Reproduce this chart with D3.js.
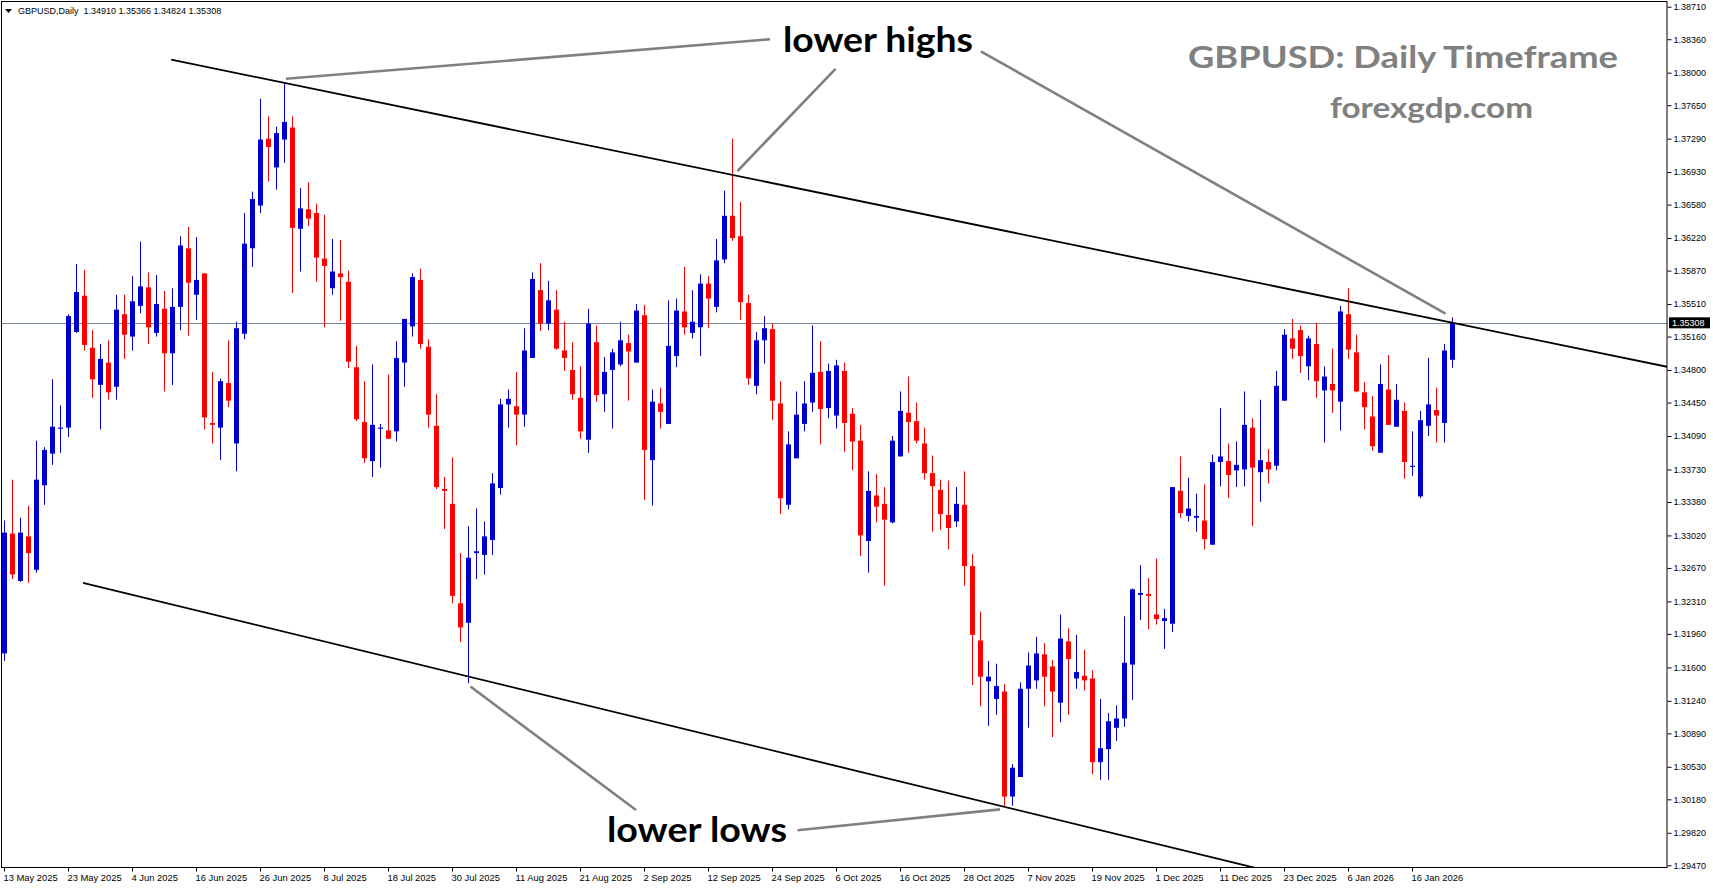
<!DOCTYPE html>
<html><head><meta charset="utf-8">
<script src="https://cdn.jsdelivr.net/npm/d3@7"></script>
<style>html,body{margin:0;padding:0;background:#fff;overflow:hidden}</style>
</head><body>
<svg id="c" width="1713" height="888"></svg>
<script>
// ---- data (GBPUSD daily, 13 May 2025 onward) ----
const opens=[1.3175,1.3304,1.3253,1.3301,1.3265,1.3356,1.3390,1.3417,1.3418,1.3521,1.3560,1.3504,1.3464,1.3488,1.3462,1.3540,1.3516,1.3549,1.3569,1.3520,1.3546,1.3498,1.3548,1.3611,1.3561,1.3584,1.3423,1.3418,1.3466,1.3401,1.3519,1.3611,1.3657,1.3729,1.3698,1.3728,1.3741,1.3632,1.3653,1.3649,1.3600,1.3568,1.3584,1.3575,1.3483,1.3424,1.3382,1.3417,1.3415,1.3414,1.3488,1.3527,1.3577,1.3505,1.3420,1.3352,1.3336,1.3229,1.3208,1.3283,1.3281,1.3297,1.3353,1.3443,1.3441,1.3432,1.3493,1.3566,1.3530,1.3545,1.3501,1.3480,1.3450,1.3405,1.3510,1.3454,1.3480,1.3486,1.3509,1.3488,1.3539,1.3383,1.3444,1.3422,1.3495,1.3543,1.3520,1.3526,1.3573,1.3548,1.3599,1.3646,1.3624,1.3552,1.3463,1.3512,1.3524,1.3444,1.3335,1.3385,1.3422,1.3445,1.3478,1.3439,1.3431,1.3479,1.3433,1.3404,1.3296,1.3345,1.3336,1.3316,1.3387,1.3434,1.3425,1.3401,1.3369,1.3351,1.3324,1.3317,1.3335,1.3269,1.3189,1.3145,1.3126,1.3134,1.3021,1.3042,1.3137,1.3146,1.3174,1.3161,1.3122,1.3188,1.3148,1.3151,1.3148,1.3058,1.3072,1.3095,1.3105,1.3163,1.3238,1.3239,1.3217,1.3210,1.3207,1.3350,1.3323,1.3321,1.3318,1.3292,1.3381,1.3382,1.3372,1.3373,1.3418,1.3370,1.3381,1.3377,1.3447,1.3514,1.3523,1.3484,1.3508,1.3458,1.3465,1.3446,1.3540,1.3499,1.3456,1.3430,1.3391,1.3459,1.3419,1.3436,1.3376,1.3344,1.3420,1.3437,1.3423,1.34910];
const highs=[1.3318,1.3362,1.3321,1.3334,1.3404,1.3397,1.3470,1.3442,1.3540,1.3594,1.3588,1.3523,1.3508,1.3512,1.3561,1.3561,1.3581,1.3618,1.3585,1.3582,1.3565,1.3568,1.3624,1.3634,1.3623,1.3584,1.3478,1.3471,1.3512,1.3532,1.3649,1.3672,1.3772,1.3753,1.3742,1.3788,1.3753,1.3676,1.3682,1.3659,1.3647,1.3621,1.3620,1.3587,1.3506,1.3468,1.3486,1.3422,1.3475,1.3511,1.3535,1.3584,1.3589,1.3513,1.3454,1.3365,1.3386,1.3283,1.3312,1.3331,1.3317,1.3369,1.3449,1.3459,1.3478,1.3525,1.3585,1.3595,1.3576,1.3566,1.3532,1.3510,1.3484,1.3546,1.3528,1.3494,1.3503,1.3532,1.3518,1.3551,1.3550,1.3459,1.3461,1.3555,1.3557,1.3591,1.3566,1.3583,1.3581,1.3621,1.3673,1.3729,1.3661,1.3561,1.3521,1.3538,1.3530,1.3468,1.3414,1.3457,1.3468,1.3528,1.3511,1.3487,1.3491,1.3488,1.3439,1.3421,1.3371,1.3368,1.3354,1.3409,1.3457,1.3473,1.3445,1.3418,1.3388,1.3362,1.3361,1.3354,1.3371,1.3282,1.3220,1.3167,1.3164,1.3142,1.3056,1.3144,1.3176,1.3193,1.3186,1.3168,1.3217,1.3202,1.3195,1.3179,1.3157,1.3126,1.3111,1.3119,1.3215,1.3245,1.3270,1.3256,1.3277,1.3223,1.3354,1.3387,1.3364,1.3347,1.3357,1.3389,1.3439,1.3401,1.3403,1.3457,1.3428,1.3448,1.3395,1.3479,1.3524,1.3535,1.3528,1.3517,1.3531,1.3484,1.3503,1.3549,1.3568,1.3518,1.3467,1.3452,1.3486,1.3496,1.3465,1.3445,1.3414,1.3436,1.3493,1.3461,1.3508,1.35366];
const lows=[1.3167,1.3255,1.3252,1.3251,1.3262,1.3335,1.3378,1.3391,1.3408,1.3520,1.3501,1.3450,1.3416,1.3448,1.3448,1.3492,1.3501,1.3541,1.3508,1.3516,1.3457,1.3464,1.3523,1.3517,1.3534,1.3416,1.3401,1.3383,1.3440,1.3371,1.3513,1.3591,1.3649,1.3683,1.3674,1.3703,1.3563,1.3586,1.3635,1.3575,1.3526,1.3561,1.3533,1.3482,1.3425,1.3380,1.3365,1.3375,1.3406,1.3403,1.3462,1.3516,1.3503,1.3418,1.3352,1.3309,1.3229,1.3187,1.3143,1.3255,1.3260,1.3281,1.3346,1.3418,1.3399,1.3419,1.3493,1.3522,1.3523,1.3502,1.3479,1.3448,1.3406,1.3391,1.3446,1.3435,1.3417,1.3484,1.3447,1.3488,1.3340,1.3334,1.3417,1.3422,1.3483,1.3518,1.3514,1.3495,1.3525,1.3542,1.3595,1.3619,1.3534,1.3464,1.3454,1.3487,1.3426,1.3325,1.3330,1.3385,1.3414,1.3435,1.3400,1.3428,1.3417,1.3392,1.3372,1.3280,1.3262,1.3316,1.3248,1.3315,1.3387,1.3391,1.3401,1.3362,1.3306,1.3308,1.3287,1.3311,1.3248,1.3141,1.3118,1.3097,1.3109,1.3010,1.3011,1.3042,1.3095,1.3137,1.3118,1.3085,1.3101,1.3109,1.3137,1.3135,1.3045,1.3039,1.3039,1.3081,1.3096,1.3125,1.3211,1.3201,1.3206,1.3180,1.3198,1.3321,1.3317,1.3306,1.3287,1.3292,1.3355,1.3342,1.3354,1.3355,1.3312,1.3338,1.3358,1.3372,1.3447,1.3492,1.3477,1.3469,1.3450,1.3402,1.3434,1.3415,1.3492,1.3456,1.3416,1.3393,1.3391,1.3421,1.3419,1.3363,1.3366,1.3342,1.3409,1.3402,1.3402,1.34824];
const closes=[1.3305,1.3260,1.3305,1.3283,1.3362,1.3394,1.3419,1.3418,1.3538,1.3564,1.3507,1.3470,1.3492,1.3456,1.3545,1.3518,1.3554,1.3570,1.3526,1.3551,1.3498,1.3548,1.3614,1.3574,1.3577,1.3429,1.3421,1.3468,1.3447,1.3525,1.3616,1.3664,1.3728,1.3720,1.3735,1.3747,1.3633,1.3654,1.3643,1.3601,1.3592,1.3586,1.3580,1.3489,1.3427,1.3385,1.3421,1.3418,1.3406,1.3493,1.3535,1.3580,1.3508,1.3432,1.3354,1.3350,1.3237,1.3203,1.3278,1.3285,1.3301,1.3358,1.3443,1.3449,1.3432,1.3501,1.3578,1.3530,1.3555,1.3503,1.3493,1.3454,1.3414,1.3530,1.3453,1.3478,1.3499,1.3512,1.3500,1.3544,1.3394,1.3446,1.3435,1.3506,1.3544,1.3526,1.3532,1.3573,1.3557,1.3598,1.3646,1.3622,1.3553,1.3471,1.3512,1.3525,1.3447,1.3342,1.3400,1.3432,1.3444,1.3477,1.3438,1.3479,1.3485,1.3423,1.3403,1.3302,1.3350,1.3333,1.3319,1.3404,1.3436,1.3424,1.3404,1.3369,1.3355,1.3325,1.3310,1.3336,1.3269,1.3195,1.3150,1.3150,1.3140,1.3021,1.3052,1.3137,1.3162,1.3175,1.3150,1.3134,1.3191,1.3169,1.3155,1.3146,1.3058,1.3073,1.3102,1.3105,1.3165,1.3244,1.3240,1.3237,1.3212,1.3213,1.3354,1.3326,1.3331,1.3323,1.3298,1.3381,1.3387,1.3367,1.3378,1.3421,1.3375,1.3383,1.3373,1.3463,1.3518,1.3503,1.3495,1.3514,1.3468,1.3473,1.3458,1.3543,1.3502,1.3457,1.3440,1.3398,1.3465,1.3421,1.3448,1.3381,1.3377,1.3426,1.3443,1.3431,1.3501,1.35308];
const xLabels=["13 May 2025","23 May 2025","4 Jun 2025","16 Jun 2025","26 Jun 2025","8 Jul 2025","18 Jul 2025","30 Jul 2025","11 Aug 2025","21 Aug 2025","2 Sep 2025","12 Sep 2025","24 Sep 2025","6 Oct 2025","16 Oct 2025","28 Oct 2025","7 Nov 2025","19 Nov 2025","1 Dec 2025","11 Dec 2025","23 Dec 2025","6 Jan 2026","16 Jan 2026"];
const xLabelIdx=[0,8,16,24,32,40,48,56,64,72,80,88,96,104,112,120,128,136,144,152,160,168,176];
const yTicks=[1.38710,1.38360,1.38000,1.37650,1.37290,1.36930,1.36580,1.36220,1.35870,1.35510,1.35160,1.34800,1.34450,1.34090,1.33730,1.33380,1.33020,1.32670,1.32310,1.31960,1.31600,1.31240,1.30890,1.30530,1.30180,1.29820,1.29470];
const lastPrice=1.35308;
// channel lines: [barIndex, price]
const upperLine=[[20.9,1.3814],[181,1.3531]];
const lowerLine=[[9.875,1.3251],[125,1.3010]];
// annotation connectors: [barIndex, price] pairs
const arrows=[
  [[35.25,1.37935],[95.75,1.38360]],
  [[103.94,1.38040],[91.69,1.36942]],
  [[122.1,1.38230],[180.19,1.35406]],
  [[58.31,1.31394],[79,1.30065]],
  [[99.19,1.29847],[124.5,1.30072]]
];

// ---- layout ----
const W=1713,H=888;
const plot={l:2,t:1,r:1667,b:867};
const N=closes.length;
const x=d3.scaleLinear().domain([0,N-1]).range([4,4+8*(N-1)]);
const y=d3.scaleLinear().domain([1.29470,1.38710]).range([865.3,6.7]);
const svg=d3.select('#c');
svg.append('rect').attr('width',W).attr('height',H).attr('fill','#fff');
svg.append('defs').append('clipPath').attr('id','clip').append('rect')
  .attr('x',plot.l).attr('y',plot.t).attr('width',plot.r-plot.l).attr('height',plot.b-plot.t);
const g=svg.append('g').attr('clip-path','url(#clip)');

// last price line
g.append('line').attr('x1',plot.l).attr('x2',plot.r)
  .attr('y1',Math.round(y(lastPrice))+0.5).attr('y2',Math.round(y(lastPrice))+0.5)
  .attr('stroke','#778899').attr('stroke-width',1);

// candles
const BULL='#0000cc',BEAR='#ff0000';
const idx=d3.range(N);
g.selectAll('rect.w').data(idx).join('rect').attr('class','w')
  .attr('x',i=>Math.round(x(i))).attr('width',1)
  .attr('y',i=>y(highs[i])).attr('height',i=>Math.max(1,y(lows[i])-y(highs[i])))
  .attr('fill',i=>closes[i]>=opens[i]?BULL:BEAR);
g.selectAll('rect.b').data(idx).join('rect').attr('class','b')
  .attr('x',i=>Math.round(x(i))-2).attr('width',5)
  .attr('y',i=>y(Math.max(opens[i],closes[i])))
  .attr('height',i=>Math.max(1.2,Math.abs(y(opens[i])-y(closes[i]))))
  .attr('fill',i=>closes[i]>=opens[i]?BULL:BEAR);

// channel lines (ray to the right)
function ray(pts,stroke,w){
  const [a,b]=pts;
  const xEnd=x.invert(plot.r+2);
  const slope=(b[1]-a[1])/(b[0]-a[0]);
  g.append('line').attr('x1',x(a[0])).attr('y1',y(a[1]))
    .attr('x2',x(xEnd)).attr('y2',y(a[1]+slope*(xEnd-a[0])))
    .attr('stroke',stroke).attr('stroke-width',w);
}
ray(upperLine,'#000',1.8);
ray(lowerLine,'#000',1.8);

// annotation connectors
g.selectAll('line.a').data(arrows).join('line').attr('class','a')
  .attr('x1',d=>x(d[0][0])).attr('y1',d=>y(d[0][1]))
  .attr('x2',d=>x(d[1][0])).attr('y2',d=>y(d[1][1]))
  .attr('stroke','#808080').attr('stroke-width',2.6);

// annotation texts
const F="Lato, 'Open Sans', sans-serif";
svg.append('text').attr('x',783).attr('y',52).text('lower highs')
  .attr('font-family',F).attr('font-weight',700).attr('font-size',35)
  .attr('textLength',190).attr('lengthAdjust','spacingAndGlyphs').attr('fill','#000');
svg.append('text').attr('x',607).attr('y',842).text('lower lows')
  .attr('font-family',F).attr('font-weight',700).attr('font-size',35)
  .attr('textLength',180).attr('lengthAdjust','spacingAndGlyphs').attr('fill','#000');
svg.append('text').attr('x',1188).attr('y',68).text('GBPUSD: Daily Timeframe')
  .attr('font-family',F).attr('font-weight',700).attr('font-size',31)
  .attr('textLength',430).attr('lengthAdjust','spacingAndGlyphs').attr('fill','#808080');
svg.append('text').attr('x',1330).attr('y',118).text('forexgdp.com')
  .attr('font-family',F).attr('font-weight',700).attr('font-size',29)
  .attr('textLength',203).attr('lengthAdjust','spacingAndGlyphs').attr('fill','#808080');

// frame
const AF="'Liberation Sans', Arial, sans-serif";
svg.append('rect').attr('x',1.5).attr('y',1.5).attr('width',plot.r-1.5).attr('height',plot.b-1)
  .attr('fill','none').attr('stroke','#000').attr('stroke-width',1);

// y axis
const ya=svg.append('g').attr('transform',`translate(${plot.r+0.5},0)`)
  .call(d3.axisRight(y).tickValues(yTicks).tickFormat(d3.format('.5f')).tickSize(4).tickPadding(2));
ya.select('.domain').remove();
ya.selectAll('text').attr('font-family',AF).attr('font-size',9).attr('fill','#000');
ya.selectAll('line').attr('stroke','#000');

// x axis
const xa=svg.append('g').attr('transform',`translate(0,${plot.b+0.5})`)
  .call(d3.axisBottom(x).tickValues(xLabelIdx).tickFormat((d,i)=>xLabels[i]).tickSize(4).tickPadding(3));
xa.select('.domain').remove();
xa.selectAll('text').attr('font-family',AF).attr('font-size',9.4).attr('fill','#000')
  .attr('text-anchor','start').attr('dx',-1);
xa.selectAll('line').attr('stroke','#000');

// last price label
const ly=y(lastPrice);
svg.append('rect').attr('x',plot.r+2).attr('y',ly-5.5).attr('width',41).attr('height',11).attr('fill','#000');
svg.append('text').attr('x',plot.r+5).attr('y',ly+3.3).text(d3.format('.5f')(lastPrice))
  .attr('font-family',AF).attr('font-size',9).attr('fill','#fff');

// header
svg.append('path').attr('d','M5,9 L12,9 L8.5,13 Z').attr('fill','#000');
svg.append('text').attr('x',18).attr('y',14).attr('xml:space','preserve')
  .style('white-space','pre')
  .text('GBPUSD,Daily  '+[opens[N-1],highs[N-1],lows[N-1],closes[N-1]].map(d3.format('.5f')).join(' '))
  .attr('font-family',AF).attr('font-size',9).attr('fill','#000');
</script>
</body></html>
